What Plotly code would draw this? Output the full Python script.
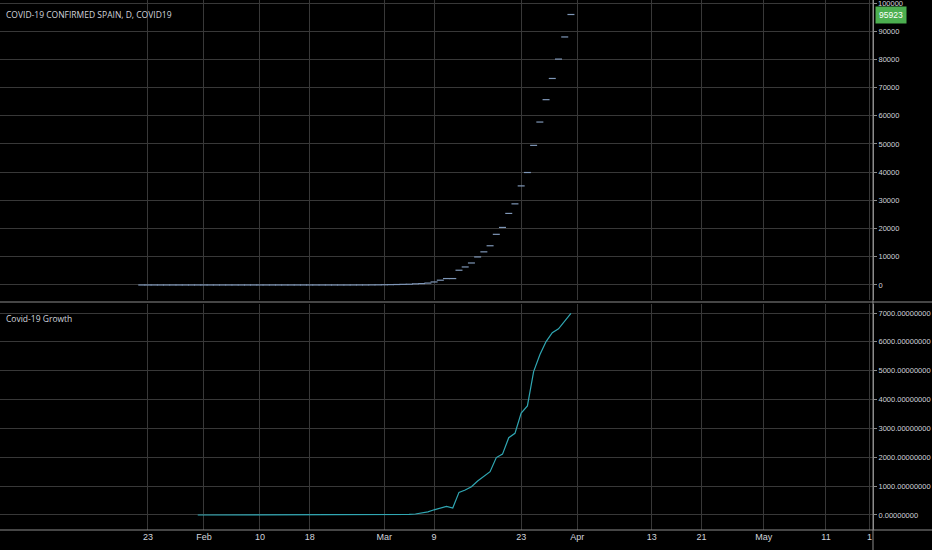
import pandas as pd
import plotly.graph_objects as go

# ---------------- data ----------------
confirmed_dates = pd.date_range("2020-01-22", "2020-03-31", freq="D")
confirmed = ([0] * 10 + [1] * 8 + [2] * 16 + [6, 13, 15, 32, 45] +
             [84, 120, 165, 222, 259, 400, 500, 673, 1073, 1695, 2277, 2277,
              5232, 6391, 7798, 9942, 11748, 13910, 17963, 20410, 25374, 28768,
              35136, 39885, 49515, 57786, 65719, 73235, 80110, 87956, 95923])

growth_dates = pd.date_range("2020-01-31", "2020-03-31", freq="D")
growth = ([0] * 25 + [1, 2, 3, 5, 7] +
          [10, 12, 12, 15, 20, 35, 60, 110, 180, 250, 300, 240, 785, 865, 980,
           1180, 1330, 1500, 1990, 2110, 2680, 2830, 3530, 3780, 4970, 5550,
           6010, 6320, 6450, 6720, 6990])

x_tick_dates = ["2020-01-23", "2020-02-01", "2020-02-10", "2020-02-18", "2020-03-01",
                "2020-03-09", "2020-03-23", "2020-04-01", "2020-04-13", "2020-04-21",
                "2020-05-01", "2020-05-11", "2020-05-18"]
x_tick_text = ["23", "Feb", "10", "18", "Mar", "9", "23", "Apr", "13", "21", "May", "11", "1"]

top_ticks = [0, 10000, 20000, 30000, 40000, 50000, 60000, 70000, 80000, 90000, 100000]
bottom_ticks = [0, 1000, 2000, 3000, 4000, 5000, 6000, 7000]

title_top = "COVID-19 CONFIRMED SPAIN, D, COVID19"
title_bottom = "Covid-19 Growth"
last_value_label = "95923"

# ---------------- style ----------------
BG = "#000000"
GRID = "#383838"
AXIS = "#8c8c8c"
TXT = "#d1d4dc"
FONT = "Liberation Sans, Arial, sans-serif"

fig = go.Figure()

fig.add_trace(go.Scatter(
    x=confirmed_dates, y=confirmed, mode="markers",
    marker=dict(symbol="line-ew", size=5, line=dict(width=1.2, color="#7f97b8")),
    xaxis="x2", yaxis="y", hoverinfo="x+y", showlegend=False))

fig.add_trace(go.Scatter(
    x=growth_dates, y=growth, mode="lines",
    line=dict(color="#30a7b3", width=1.2),
    xaxis="x", yaxis="y2", showlegend=False))

x_range = ["2019-12-30 05:00", "2020-05-18 13:30"]
xcommon = dict(range=x_range, type="date", showgrid=True, gridcolor=GRID, gridwidth=1,
               tickvals=x_tick_dates, zeroline=False, showline=False, ticks="",
               automargin=False)

ycommon = dict(side="right", showgrid=True, gridcolor=GRID, zeroline=False,
               showline=True, linecolor=AXIS, linewidth=1,
               ticks="outside", ticklen=3, tickcolor=AXIS, automargin=False,
               ticklabelstandoff=0,
               tickfont=dict(size=7.5, color=TXT, family=FONT))

fig.update_layout(
    width=932, height=550,
    paper_bgcolor=BG, plot_bgcolor=BG,
    margin=dict(l=0, r=59, t=0, b=20, pad=0),
    font=dict(family=FONT, color=TXT, size=10),
    xaxis=dict(**xcommon, ticktext=x_tick_text, anchor="y2", domain=[0, 1],
               tickfont=dict(size=9, color=TXT, family=FONT)),
    xaxis2=dict(**xcommon, matches="x", anchor="y", showticklabels=False, domain=[0, 1]),
    yaxis=dict(**ycommon, domain=[0.434, 1], range=[-5319, 101064],
               tickvals=top_ticks, tickformat="d"),
    yaxis2=dict(**ycommon, domain=[0, 0.4264], range=[-520, 7312],
                tickvals=bottom_ticks, tickformat=".8f"),
    hovermode="closest",
)

# pane separator and bottom axis line spanning full width
fig.add_shape(type="line", xref="paper", yref="paper", x0=0, x1=932 / 873,
              y0=(530 - 302) / 530, y1=(530 - 302) / 530,
              line=dict(color=AXIS, width=1))
fig.add_shape(type="line", xref="paper", yref="paper", x0=0, x1=932 / 873,
              y0=0, y1=0, line=dict(color=AXIS, width=1))
fig.add_shape(type="line", xref="paper", yref="paper", x0=1, x1=1,
              y0=-20 / 530, y1=1, line=dict(color=AXIS, width=1))

# top-most price label, which sits partly above the pane edge
fig.add_annotation(text=str(top_ticks[-1]), xref="paper", yref="y", x=1.0035,
                   y=top_ticks[-1], xanchor="left", yanchor="middle", showarrow=False,
                   font=dict(size=7.5, color=TXT, family=FONT))

# titles
fig.add_annotation(text=title_top, xref="paper", yref="paper", x=0.005, y=1 - 15 / 530,
                   xanchor="left", yanchor="middle", showarrow=False,
                   font=dict(size=8.5, color=TXT, family="Open Sans, sans-serif"))
fig.add_annotation(text=title_bottom, xref="paper", yref="paper", x=0.005, y=(530 - 318) / 530,
                   xanchor="left", yanchor="middle", showarrow=False,
                   font=dict(size=8.5, color=TXT, family="Open Sans, sans-serif"))

# last value label
fig.add_annotation(text=last_value_label, xref="paper", yref="y", x=1.002, y=confirmed[-1],
                   xanchor="left", yanchor="middle", showarrow=False,
                   bgcolor="#4caf50", borderpad=3,
                   font=dict(size=8.5, color="#ffffff", family=FONT))

fig.write_html("out.html", config={"displayModeBar": False},
               post_script="document.body.style.margin='0';document.body.style.padding='0';"
                           "document.body.style.background='#000';")
